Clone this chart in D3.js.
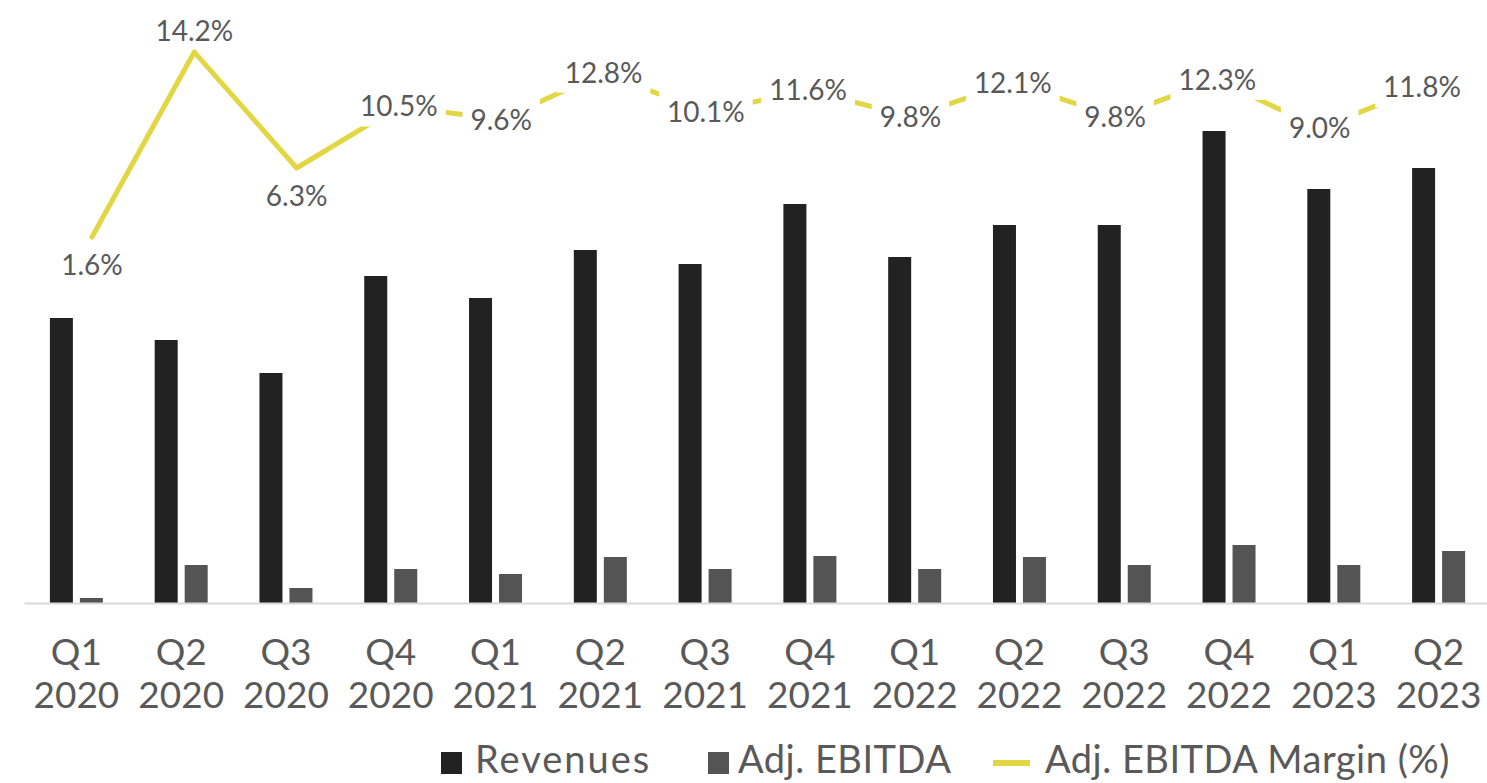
<!DOCTYPE html>
<html><head><meta charset="utf-8">
<script src="https://cdn.jsdelivr.net/npm/d3@7"></script>
<style>body{margin:0;background:#fff}svg{display:block}text{font-family:Lato,"Noto Sans",sans-serif}</style>
</head><body><svg id="c" width="1487" height="783"></svg>
<script>
const quarters = ["Q1","Q2","Q3","Q4","Q1","Q2","Q3","Q4","Q1","Q2","Q3","Q4","Q1","Q2"];
const years = ["2020","2020","2020","2020","2021","2021","2021","2021","2022","2022","2022","2022","2023","2023"];
const revenues = [285,263,230,327,305,353,339,399,346,378,378,472,414,435];
const ebitda = [5,38,15,34,29,46,34,47,34,46,38,58,38,52];
const margin = [1.6,14.2,6.3,10.5,9.6,12.8,10.1,11.6,9.8,12.1,9.8,12.3,9.0,11.8];
const labelPos = ["below","above","below","center","center","center","center","center","center","center","center","center","center","center"];

const svg = d3.select("#c");
const cats = quarters.map((q,i)=>q+" "+years[i]);
const x = d3.scaleBand().domain(cats).range([24,1491]).paddingInner(0).paddingOuter(0);
const xl = d3.scalePoint().domain(cats).range([92,1422]);
const bw = 23, gap = 7;
const y = d3.scaleLinear().domain([0,500]).range([603,103]);
const y2 = d3.scaleLinear().domain([0,16]).range([260.5,260.5-16*14.68]);

const textCol = "#595959";
const cRev = "#222222", cEb = "#545454", cLine = "#e3d643";

// bars
const cx = i => x(cats[i]) + x.bandwidth()/2;
svg.append("g").selectAll("rect").data(revenues).join("rect")
  .attr("x",(d,i)=>cx(i)-gap/2-bw).attr("width",bw)
  .attr("y",d=>y(d)).attr("height",d=>y(0)-y(d)).attr("fill",cRev);
svg.append("g").selectAll("rect").data(ebitda).join("rect")
  .attr("x",(d,i)=>cx(i)+gap/2).attr("width",bw)
  .attr("y",d=>y(d)).attr("height",d=>y(0)-y(d)).attr("fill",cEb);

// axis
const ax = svg.append("g").attr("transform",`translate(0,${y(0)})`)
  .call(d3.axisBottom(x).tickSize(0).tickFormat(""));
ax.select(".domain").attr("stroke","#d9d9d9").attr("stroke-width",2);
ax.selectAll(".tick").each(function(d,i){
  const t = d3.select(this).append("text").attr("fill",textCol).attr("font-size",37).attr("text-anchor","middle");
  t.append("tspan").attr("x",0).attr("y",62).text(quarters[i]);
  t.append("tspan").attr("x",0).attr("y",105).text(years[i]);
});

// line
const lx = i => xl(cats[i]);
const line = d3.line().x((d,i)=>lx(i)).y(d=>y2(d));
svg.append("path").datum(margin).attr("d",line).attr("fill","none")
  .attr("stroke",cLine).attr("stroke-width",5).attr("stroke-linejoin","round").attr("stroke-linecap","round");

// data labels
const lg = svg.append("g");
margin.forEach((m,i)=>{
  const pos = labelPos[i];
  let ty = y2(m);
  if(pos==="above") ty -= 21; else if(pos==="below") ty += 28;
  const g = lg.append("g").attr("transform",`translate(${lx(i)},${ty})`);
  const t = g.append("text").attr("text-anchor","middle").attr("dy","0.36em")
    .attr("font-size",28).attr("fill",textCol).text(m.toFixed(1)+"%");
  if(pos==="center"){
    const bb = t.node().getBBox();
    g.insert("rect","text").attr("x",bb.x-8).attr("y",bb.y-4).attr("width",bb.width+16).attr("height",bb.height+8).attr("fill","#fff");
  }
});

// legend
const leg = svg.append("g").attr("font-size",38).attr("fill",textCol);
leg.append("rect").attr("x",441).attr("y",752).attr("width",21).attr("height",22).attr("fill",cRev);
leg.append("text").attr("x",475).attr("y",773).attr("fill",textCol).attr("letter-spacing",2).text("Revenues");
leg.append("rect").attr("x",708).attr("y",752).attr("width",21).attr("height",22).attr("fill",cEb);
leg.append("text").attr("x",738).attr("y",773).attr("fill",textCol).attr("letter-spacing",0.5).text("Adj. EBITDA");
leg.append("line").attr("x1",993).attr("x2",1030).attr("y1",763).attr("y2",763).attr("stroke",cLine).attr("stroke-width",6);
leg.append("text").attr("x",1045).attr("y",773).attr("fill",textCol).attr("letter-spacing",0.5).text("Adj. EBITDA Margin (%)");
</script></body></html>
